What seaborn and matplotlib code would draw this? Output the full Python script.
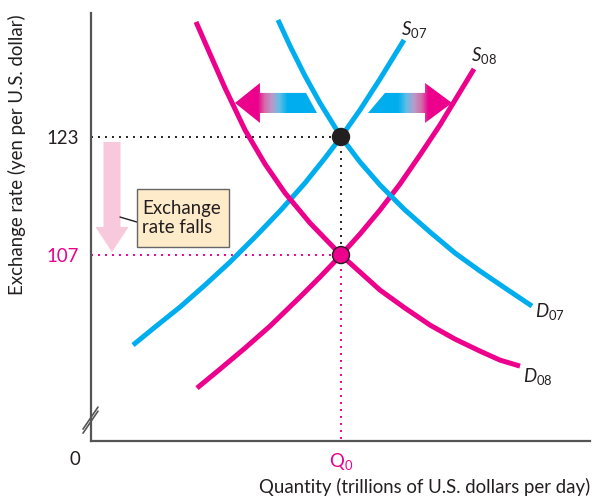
import numpy as np
import pandas as pd
import matplotlib
matplotlib.use("Agg")
import matplotlib.pyplot as plt
from matplotlib.patches import Polygon, Rectangle
from matplotlib.colors import LinearSegmentedColormap
import seaborn as sns

# ---- data -----------------------------------------------------------------
rate_2007 = 123          # yen per U.S. dollar
rate_2008 = 107
q_equilibrium = 5.0      # Q0

# supply and demand curves: (quantity, exchange rate)
s07_q = [0.84, 1.28, 1.78, 2.28, 2.78, 3.28, 3.78, 4.28, 4.68, 5.00, 5.38, 5.78, 6.26]
s07_r = [94.80, 97.24, 99.95, 102.93, 106.05, 109.44, 112.97, 116.76, 120.15,
         123.00, 126.66, 130.86, 136.15]

s08_q = [2.12, 2.58, 3.08, 3.58, 4.18, 4.58, 5.00, 5.38, 5.78, 6.18, 6.58, 6.98,
         7.38, 7.66]
s08_r = [88.97, 91.54, 94.39, 97.37, 101.31, 104.02, 107.00, 109.85, 113.10,
         116.63, 120.56, 124.63, 129.10, 132.22]

d07_q = [3.74, 3.98, 4.28, 4.58, 5.00, 5.38, 5.78, 6.28, 6.78, 7.28, 7.78, 8.28, 8.82]
d07_r = [138.86, 135.34, 131.27, 127.61, 123.00, 119.61, 116.49, 113.10, 110.12,
         107.27, 104.83, 102.53, 100.08]

d08_q = [2.10, 2.38, 2.68, 3.08, 3.48, 3.88, 4.38, 5.00, 5.38, 5.78, 6.28, 6.78,
         7.28, 7.78, 8.18, 8.58]
d08_r = [138.59, 134.25, 129.64, 123.95, 119.34, 115.41, 111.34, 107.00, 104.69,
         102.25, 99.81, 97.51, 95.61, 93.98, 92.76, 91.95]

curve_names = ["S07", "S08", "D07", "D08"]
y_tick_values = [rate_2008, rate_2007]
y_tick_labels = ["107", "123"]

BLUE = "#00AEEF"
MAGENTA = "#EC008C"
DARK = "#231F20"
AXIS = "#555555"
FS = 13.4

# ---- style ----------------------------------------------------------------
sns.set_style("white")
plt.rcParams["font.family"] = ["Lato", "DejaVu Sans"]
plt.rcParams["mathtext.fontset"] = "custom"
plt.rcParams["mathtext.rm"] = "Lato"
plt.rcParams["mathtext.it"] = "Lato:italic"

fig = plt.figure(figsize=(5.98, 4.96), dpi=100)
ax = fig.add_axes([91 / 598, 55 / 496, 499 / 598, 428 / 496])
ax.set_xlim(0, 9.98)
ax.set_ylim(81.8, 139.8)

frames = []
for name, q, r in zip(curve_names,
                      [s07_q, s08_q, d07_q, d08_q],
                      [s07_r, s08_r, d07_r, d08_r]):
    frames.append(pd.DataFrame({"curve": name, "quantity": q, "rate": r}))
curves = pd.concat(frames, ignore_index=True)

palette = {"S07": BLUE, "D07": BLUE, "S08": MAGENTA, "D08": MAGENTA}
sns.lineplot(data=curves, x="quantity", y="rate", hue="curve", units="curve",
             estimator=None, sort=False, palette=palette, linewidth=3.6,
             solid_capstyle="butt", solid_joinstyle="round", legend=False,
             ax=ax, zorder=3)

# ---- dotted guide lines ---------------------------------------------------
dot = (0, (1, 2.6))
ax.plot([0, q_equilibrium], [rate_2007, rate_2007], color=DARK, lw=1.4,
        linestyle=dot, zorder=2)
ax.plot([q_equilibrium, q_equilibrium], [rate_2007, rate_2008], color=DARK,
        lw=1.4, linestyle=dot, zorder=2)
ax.plot([0, q_equilibrium], [rate_2008, rate_2008], color=MAGENTA, lw=1.4,
        linestyle=dot, zorder=2)
ax.plot([q_equilibrium, q_equilibrium], [rate_2008, 81.8], color=MAGENTA,
        lw=1.4, linestyle=dot, zorder=2, clip_on=False)

# ---- equilibrium points ---------------------------------------------------
eq = pd.DataFrame({"quantity": [q_equilibrium, q_equilibrium],
                   "rate": [rate_2007, rate_2008],
                   "year": ["2007", "2008"]})
sns.scatterplot(data=eq, x="quantity", y="rate", hue="year",
                palette={"2007": DARK, "2008": MAGENTA}, s=150,
                edgecolor=DARK, linewidth=1.0, legend=False, ax=ax, zorder=5)

# ---- shift arrows with blue/magenta gradient ------------------------------
grad = LinearSegmentedColormap.from_list(
    "shift", [(0.0, BLUE), (0.36, BLUE), (0.46, "#62BFE6"), (0.55, "#B99AC8"),
              (0.64, "#D46AA8"), (0.72, MAGENTA), (1.0, MAGENTA)])


def gradient_arrow(points, x0, x1, y0, y1, flip):
    poly = Polygon(points, closed=True, facecolor="none", edgecolor="none")
    ax.add_patch(poly)
    g = np.linspace(0, 1, 256)[None, :]
    if flip:
        g = g[:, ::-1]
    im = ax.imshow(g, cmap=grad, extent=[x0, x1, y0, y1], aspect="auto",
                   interpolation="bilinear", zorder=4)
    im.set_clip_path(poly)


yc, hh, sh = 127.61, 2.71, 1.36
# leftward arrow (demand falls)
gradient_arrow([(2.88, yc), (3.38, yc + hh), (3.38, yc + sh), (4.30, yc + sh),
                (4.52, yc - sh), (3.38, yc - sh), (3.38, yc - hh)],
               2.88, 4.52, yc - hh, yc + hh, flip=True)
# rightward arrow (supply rises)
gradient_arrow([(5.54, yc - sh), (5.88, yc + sh), (6.68, yc + sh),
                (6.68, yc + hh), (7.22, yc), (6.68, yc - hh), (6.68, yc - sh)],
               5.54, 7.22, yc - hh, yc + hh, flip=False)

# ---- falling exchange rate arrow and callout -----------------------------
ax.add_patch(Polygon([(0.25, 122.32), (0.59, 122.32), (0.59, 110.8),
                      (0.75, 110.8), (0.42, 107.4), (0.09, 110.8),
                      (0.25, 110.8)], closed=True, facecolor="#F8C8DD",
                     edgecolor="none", zorder=1))
ax.plot([0.58, 0.92], [112.15, 111.47], color=DARK, lw=1.0, zorder=2)
ax.add_patch(Rectangle((0.92, 108.08), 1.84, 7.87, facecolor="#FDEBC9",
                       edgecolor="#666666", lw=1.0, zorder=3))
ax.text(1.03, 112.05, "Exchange\nrate falls", ha="left", va="center",
        fontsize=FS, color=DARK, linespacing=1.12, zorder=4)

# ---- curve labels ----------------------------------------------------------
lab = dict(fontsize=FS, color=DARK, ha="left", va="center")
ax.text(6.20, 137.6, r"$S_{07}$", **lab)
ax.text(7.60, 134.0, r"$S_{08}$", **lab)
ax.text(8.88, 99.3, r"$D_{07}$", **lab)
ax.text(8.64, 90.6, r"$D_{08}$", **lab)

# ---- axes ------------------------------------------------------------------
for side in ["top", "right"]:
    ax.spines[side].set_visible(False)
for side in ["left", "bottom"]:
    ax.spines[side].set_color(AXIS)
    ax.spines[side].set_linewidth(1.6)

ax.set_yticks(y_tick_values)
ax.set_yticklabels(y_tick_labels)
ax.set_xticks([q_equilibrium])
ax.set_xticklabels([r"$\mathrm{Q}_{0}$"])
ax.tick_params(axis="both", length=0, labelsize=FS, colors=DARK)
ax.tick_params(axis="y", pad=9)
ax.tick_params(axis="x", pad=7)
ax.get_yticklabels()[0].set_color(MAGENTA)
ax.get_xticklabels()[0].set_color(MAGENTA)
ax.set_xlabel("")
ax.set_ylabel("")

ax.text(-0.32, 79.3, "0", fontsize=FS, color=DARK, ha="center", va="center",
        clip_on=False)

# axis break marks
for dy in (0.0, 0.55):
    ax.plot([-0.16, 0.14], [82.86 + dy, 85.85 + dy], color=AXIS, lw=1.2,
            clip_on=False, zorder=6)

fig.text(590 / 598, 1 - 487 / 496, "Quantity (trillions of U.S. dollars per day)",
         ha="right", va="center", fontsize=FS, color=DARK)
fig.text(17 / 598, 1 - 155 / 496, "Exchange rate (yen per U.S. dollar)",
         ha="center", va="center", rotation=90, fontsize=FS, color=DARK)

fig.savefig("out.png", dpi=100)
